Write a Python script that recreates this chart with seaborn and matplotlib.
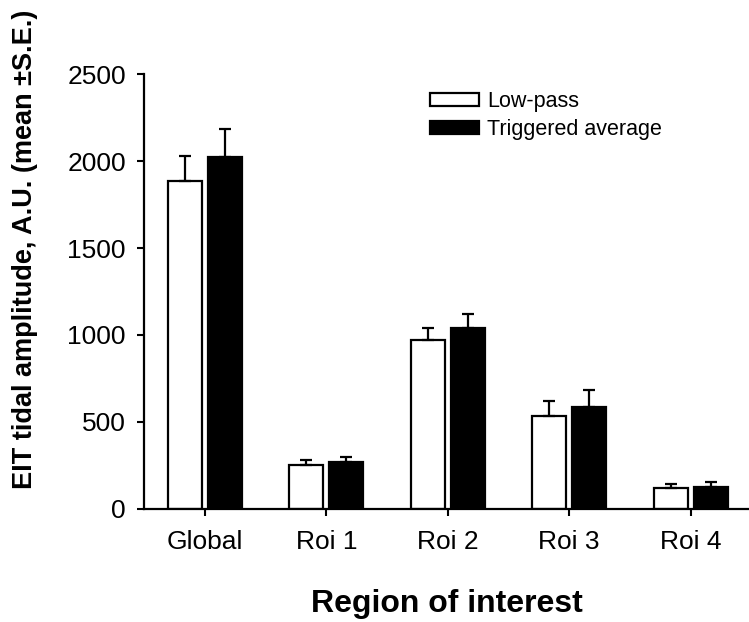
import matplotlib
matplotlib.use("Agg")
import matplotlib.pyplot as plt
import seaborn as sns
import pandas as pd
import numpy as np
from matplotlib.patches import Patch

categories = ["Global", "Roi 1", "Roi 2", "Roi 3", "Roi 4"]
series = ["Low-pass", "Triggered average"]
lowpass_mean = [1885, 255, 971, 533, 119]
lowpass_se = [144, 27, 69, 88, 25]
trig_mean = [2023, 268, 1040, 586, 128]
trig_se = [163, 31, 79, 100, 25]

sns.set_theme(style="white")
plt.rcParams['font.family'] = ['Liberation Sans', 'DejaVu Sans']
plt.rcParams['text.color'] = 'black'
plt.rcParams['axes.labelcolor'] = 'black'

df = pd.DataFrame({
    "Region": categories * 2,
    "Series": [series[0]] * 5 + [series[1]] * 5,
    "Value": lowpass_mean + trig_mean,
})

fig = plt.figure(figsize=(7.49, 6.22), dpi=100)
ax = fig.add_axes([0.1923, 0.1817, 0.8077, 0.6993])

sns.barplot(data=df, x="Region", y="Value", hue="Series", order=categories,
            hue_order=series, palette={series[0]: "white", series[1]: "black"},
            width=0.66, gap=0.15, edgecolor="black", linewidth=1.6,
            errorbar=None, legend=False, ax=ax, saturation=1)

# error bars (upper only) from bar patch positions; patches added per hue
means = lowpass_mean + trig_mean
ses = lowpass_se + trig_se
for i, p in enumerate(ax.patches[:10]):
    x = p.get_x() + p.get_width() / 2
    ax.errorbar(x, means[i], yerr=[[0], [ses[i]]], fmt="none", ecolor="black",
                elinewidth=1.6, capsize=4.5, capthick=1.6, zorder=1)

ax.set_ylim(0, 2500)
ax.set_xlim(-0.5, 4.48)
ax.set_yticks([0, 500, 1000, 1500, 2000, 2500])
ax.set_yticklabels(["0", "500", "1000", "1500", "2000", "2500"])
ax.tick_params(axis="both", which="major", labelsize=19, colors="black",
               direction="out", length=5, width=1.5, left=True, bottom=True)
ax.tick_params(axis="y", pad=8)
ax.tick_params(axis="x", pad=10)

for s in ["top", "right"]:
    ax.spines[s].set_visible(False)
for s in ["left", "bottom"]:
    ax.spines[s].set_color("black")
    ax.spines[s].set_linewidth(1.6)

ax.set_xlabel("Region of interest", fontsize=23, fontweight="bold", labelpad=25,
              color="black")
ax.set_ylabel("EIT tidal amplitude, A.U. (mean \u00b1S.E.)", fontsize=19.5,
              fontweight="bold", color="black")
ax.yaxis.set_label_coords(-0.176, 0.598)

handles = [Patch(facecolor="white", edgecolor="black", linewidth=1.6),
           Patch(facecolor="black", edgecolor="black", linewidth=1.6)]
leg = ax.legend(handles, series, loc="upper left", bbox_to_anchor=(0.452, 0.99),
                frameon=False, fontsize=15.5, handlelength=2.25, handleheight=0.55,
                handletextpad=0.4, labelspacing=0.3, borderaxespad=0.2)
for t in leg.get_texts():
    t.set_color("black")

fig.savefig("out.png", dpi=100)
